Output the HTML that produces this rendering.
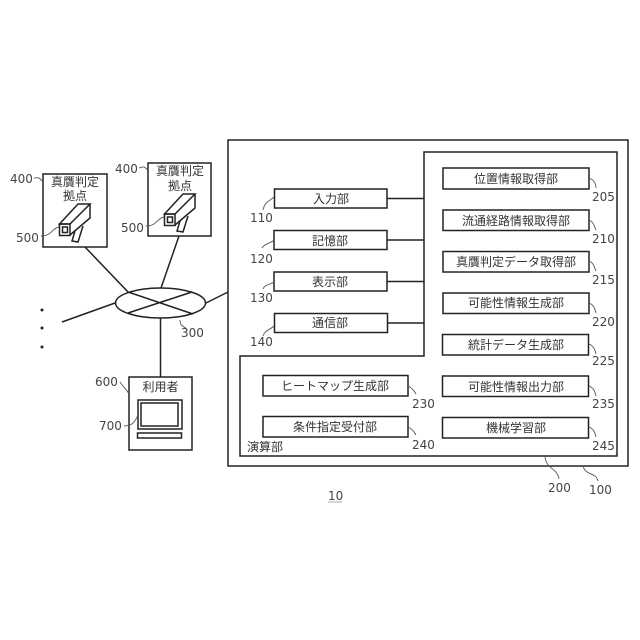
<!DOCTYPE html>
<html><head><meta charset="utf-8"><style>
html,body{margin:0;padding:0;background:#fff}
svg{display:block}
text{font-family:"DejaVu Sans","Noto Sans CJK JP",sans-serif;font-size:12px;fill:#444}
.j{font-family:"Liberation Sans","Noto Sans CJK JP",sans-serif;text-anchor:middle;fill:#333}
.b{fill:#fff;stroke:#222;stroke-width:1.5}
.l{fill:none;stroke:#222;stroke-width:1.5}
.c{fill:none;stroke:#555;stroke-width:.9}
</style></head><body>
<svg width="640" height="640" viewBox="0 0 640 640" xmlns="http://www.w3.org/2000/svg">
<rect class="b" x="228" y="140" width="400" height="326"/>
<path class="l" d="M424 152H617V456H240V356H424Z"/>
<path class="l" d="M387 198.500H424M387 240H424M387 281.500H424M387 323H424"/>
<path class="l" d="M85 247L128 292L193 314M128 313L192 292M179 236L161 288M62 322L115 303M206 303L228 292M160.500 318V377"/>
<ellipse class="l" cx="160.500" cy="303" rx="45" ry="15"/>
<rect class="b" x="43" y="174" width="64" height="73"/>
<rect class="b" x="148" y="163" width="63" height="73"/>
<rect class="b" x="129" y="377" width="63" height="73"/>
<g id="cam"><path class="l" d="M59.500 224L78 204H90L70 224ZM90 204V218L70 235"/><rect class="l" x="59.500" y="224" width="10.500" height="11.500" stroke-width="2"/><rect class="l" x="62.500" y="227" width="5" height="5.500"/><path class="l" d="M75 231L72 241L78 242L83 226"/></g>
<use href="#cam" x="105" y="-10"/>
<rect class="l" x="138" y="400" width="44" height="29"/>
<rect class="l" x="141" y="403" width="37" height="23" stroke-width="2"/>
<rect class="l" x="137.500" y="433" width="44" height="5"/>
<circle cx="42" cy="310" r="1.500" fill="#222"/><circle cx="42" cy="328" r="1.500" fill="#222"/><circle cx="42" cy="347" r="1.500" fill="#222"/>
<g>
<rect class="b" x="274.500" y="189" width="112.500" height="19"/>
<rect class="b" x="274" y="230.500" width="113" height="19"/>
<rect class="b" x="274" y="272" width="113" height="19"/>
<rect class="b" x="274.500" y="313.500" width="113" height="19"/>
<rect class="b" x="443" y="168" width="146" height="21"/>
<rect class="b" x="443" y="210" width="146" height="20.500"/>
<rect class="b" x="443" y="251.500" width="146" height="20.500"/>
<rect class="b" x="443" y="293" width="146" height="20.500"/>
<rect class="b" x="442.500" y="334.500" width="146" height="20.500"/>
<rect class="b" x="442.500" y="376" width="146" height="20.500"/>
<rect class="b" x="442.500" y="417.500" width="146" height="20.500"/>
<rect class="b" x="263" y="375.500" width="145" height="20.500"/>
<rect class="b" x="263" y="416.500" width="145" height="20.500"/>
</g>
<path class="c" d="M43 182C38 176 38 178 34 178M148 171C144 165 143 167 139 168M129 394C125 387 124 388 120 382M138 415C134 424 132 425 124 426M59 227C52 228 52 236 41 236M164 217C157 218 157 226 146 226M180 320C180 328 186 326 187 330M274 197C270 201 265 201 263 210M274 240C270 244 265 243 262 248M274 282C270 285 265 284 263 289M274 326C270 330 265 330 263 336M589 178C594 180 596 184 596 188M589 220C594 222 594 226 596 230M589 261C594 263 594 267 596 271M589 303C594 305 595 309 596 313M589 344C594 346 595 350 596 354M589 386C594 388 595 392 596 396M589 427C594 429 595 433 596 437M408 386C412 388 414 390 416 394M408 427C412 429 414 431 416 435M545 456C546 470 557 467 559 479M583 466C586 476 596 472 598 481"/>
<text class="j" x="75" y="186">真贋判定</text><text class="j" x="75" y="200">拠点</text>
<text class="j" x="180" y="175">真贋判定</text><text class="j" x="180" y="190">拠点</text>
<text class="j" x="160.500" y="391">利用者</text>
<text class="j" x="331" y="203">入力部</text>
<text class="j" x="330" y="245">記憶部</text>
<text class="j" x="330" y="286">表示部</text>
<text class="j" x="330" y="327">通信部</text>
<text class="j" x="516" y="183">位置情報取得部</text>
<text class="j" x="516" y="225">流通経路情報取得部</text>
<text class="j" x="516" y="266">真贋判定データ取得部</text>
<text class="j" x="516" y="307">可能性情報生成部</text>
<text class="j" x="516" y="349">統計データ生成部</text>
<text class="j" x="516" y="391">可能性情報出力部</text>
<text class="j" x="516" y="432">機械学習部</text>
<text class="j" x="335" y="390">ヒートマップ生成部</text>
<text class="j" x="335" y="431">条件指定受付部</text>
<text class="j" x="265" y="451">演算部</text>
<text x="10" y="183">400</text><text x="115" y="173">400</text>
<text x="16" y="242">500</text><text x="121" y="232">500</text>
<text x="181" y="337">300</text><text x="95" y="386">600</text><text x="99" y="430">700</text>
<text x="250" y="222">110</text><text x="250" y="263">120</text><text x="250" y="302">130</text><text x="250" y="346">140</text>
<text x="592" y="201">205</text><text x="592" y="243">210</text><text x="592" y="284">215</text><text x="592" y="326">220</text><text x="592" y="365">225</text><text x="592" y="408">235</text><text x="592" y="450">245</text>
<text x="412" y="408">230</text><text x="412" y="449">240</text>
<text x="548" y="492">200</text><text x="589" y="494">100</text>
<text x="328" y="500">10</text>
<path d="M328 502H342" stroke="#999" stroke-width=".8"/>
</svg>
</body></html>
